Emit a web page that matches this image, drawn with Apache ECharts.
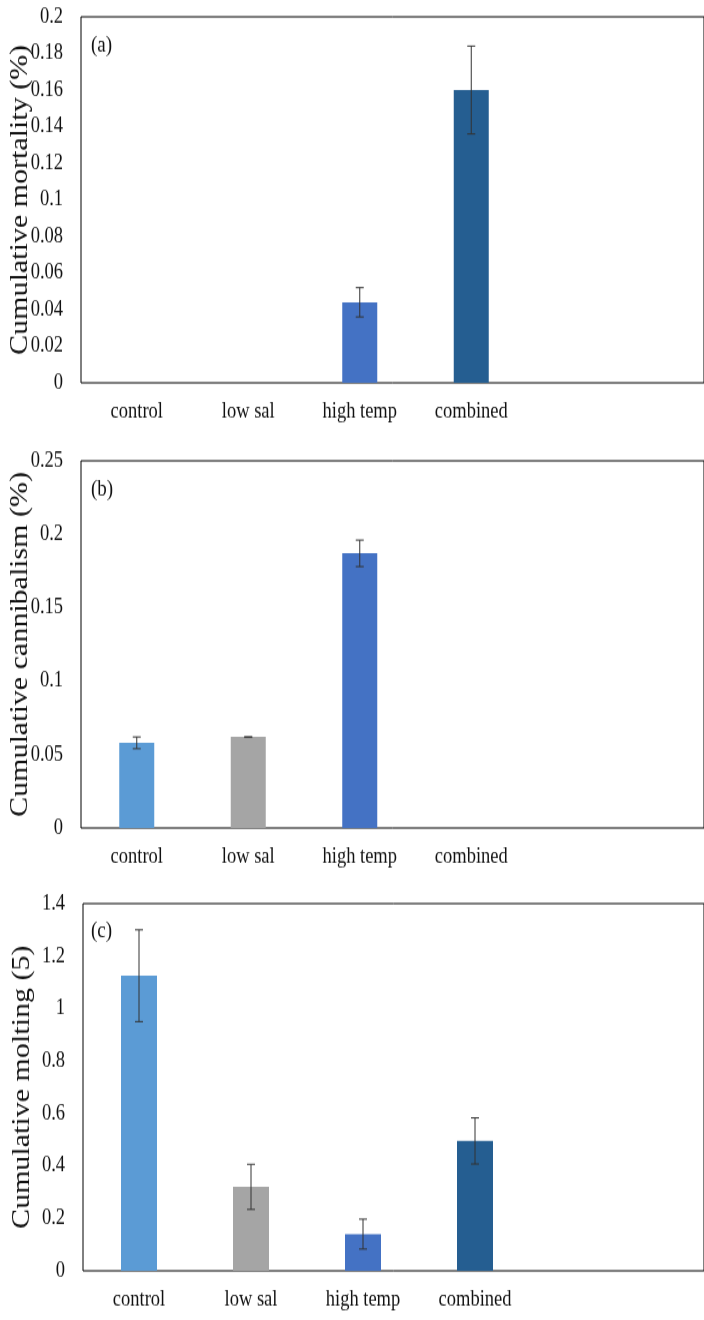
<!DOCTYPE html>
<html>
<head>
<meta charset="utf-8">
<script src="https://cdn.jsdelivr.net/npm/echarts@6/dist/echarts.min.js"></script>
<style>
  html, body { margin: 0; padding: 0; background: #fff; }
  #wrap { width: 704px; height: 1320px; position: relative; overflow: hidden; }
  /* the figure is drawn at 1100px tall and stretched vertically to 1320px */
  #chart { position: absolute; left: 0; top: 0; width: 704px; height: 1100px;
           transform: scaleY(1.2); transform-origin: 0 0; }
</style>
</head>
<body>
<div id="wrap"><div id="chart"></div></div>
<script>
// Treatments (x categories)
const categories = ['control', 'low sal', 'high temp', 'combined'];

// (a) cumulative mortality, mean and error
const mortality = [0, 0, 0.044, 0.16];
const mortalityErr = [0, 0, 0.008, 0.024];

// (b) cumulative cannibalism, mean and error
const cannibalism = [0.058, 0.062, 0.187, 0];
const cannibalismErr = [0.004, 0, 0.009, 0];

// (c) cumulative molting, mean and error
const molting = [1.125, 0.32, 0.14, 0.495];
const moltingErr = [0.175, 0.086, 0.057, 0.088];

// y-axis ranges: [max, interval]
const mortalityAxis = [0.2, 0.02];
const cannibalismAxis = [0.25, 0.05];
const moltingAxis = [1.4, 0.2];

const panelLetters = ['(a)', '(b)', '(c)'];
const axisTitles = ['Cumulative mortality (%)', 'Cumulative cannibalism (%)', 'Cumulative molting (5)'];

// styling
const barColors = ['#5B9BD5', '#A5A5A5', '#4472C4', '#255E91'];
const FONT = "'Liberation Serif', 'Times New Roman', serif";
const TEXT = '#111';
const panels = [
  { vals: mortality, errs: mortalityErr, axis: mortalityAxis, top: 14, height: 305, left: 81, width: 446, barW: 35, letterTop: 29 },
  { vals: cannibalism, errs: cannibalismErr, axis: cannibalismAxis, top: 384, height: 306, left: 81, width: 446, barW: 35, letterTop: 399 },
  { vals: molting, errs: moltingErr, axis: moltingAxis, top: 753, height: 306, left: 83, width: 448, barW: 36, letterTop: 767 }
];

const grid = [], xAxis = [], yAxis = [], series = [], title = [];

panels.forEach((p, k) => {
  const g = 2 * k;        // plotting grid
  const f = 2 * k + 1;    // frame grid, open on the right
  grid.push({ left: p.left, top: p.top, width: p.width, height: p.height });
  grid.push({ left: p.left, top: p.top, right: -10, height: p.height, show: true,
              borderColor: '#000', borderWidth: 1, backgroundColor: 'transparent' });

  xAxis.push({
    gridIndex: g, type: 'category', data: categories,
    axisLine: { show: false }, axisTick: { show: false },
    axisLabel: { margin: 15, fontFamily: FONT, fontSize: 18.5, color: TEXT }
  });
  xAxis.push({ gridIndex: f, type: 'value', show: false });

  yAxis.push({
    gridIndex: g, type: 'value', min: 0, max: p.axis[0], interval: p.axis[1],
    axisLine: { show: false }, axisTick: { show: false }, splitLine: { show: false },
    axisLabel: { margin: 18, fontFamily: FONT, fontSize: 18.5, color: TEXT },
    name: axisTitles[k], nameLocation: 'middle', nameGap: 48, nameMoveOverlap: false,
    nameTextStyle: { fontFamily: FONT, fontSize: 25, color: TEXT }
  });
  yAxis.push({ gridIndex: f, type: 'value', show: false });

  series.push({
    type: 'bar', xAxisIndex: g, yAxisIndex: g, barWidth: p.barW,
    data: p.vals.map((v, i) => ({ value: v, itemStyle: { color: barColors[i] } })),
    silent: true
  });

  series.push({
    type: 'custom', xAxisIndex: g, yAxisIndex: g, z: 5, silent: true,
    encode: { x: 0, y: 1 },
    data: p.vals.map((v, i) => [i, v, p.errs[i]]),
    renderItem: function (params, api) {
      const v = api.value(1), e = api.value(2);
      if (!v) return null;
      const hi = api.coord([api.value(0), v + e]);
      const lo = api.coord([api.value(0), v - e]);
      const x = hi[0], hw = 4;
      const st = { stroke: '#333', lineWidth: 1 };
      return {
        type: 'group',
        children: [
          { type: 'line', shape: { x1: x, y1: hi[1], x2: x, y2: lo[1] }, style: st },
          { type: 'line', shape: { x1: x - hw, y1: hi[1], x2: x + hw, y2: hi[1] }, style: st },
          { type: 'line', shape: { x1: x - hw, y1: lo[1], x2: x + hw, y2: lo[1] }, style: st }
        ]
      };
    }
  });

  title.push({
    text: panelLetters[k], left: 91, top: p.letterTop, padding: 0,
    textStyle: { fontFamily: FONT, fontSize: 19, fontWeight: 'normal', color: TEXT }
  });
});

const chart = echarts.init(document.getElementById('chart'), null, { renderer: 'canvas' });
chart.setOption({
  backgroundColor: '#fff',
  animation: false,
  title: title,
  grid: grid,
  xAxis: xAxis,
  yAxis: yAxis,
  series: series
});
</script>
</body>
</html>
